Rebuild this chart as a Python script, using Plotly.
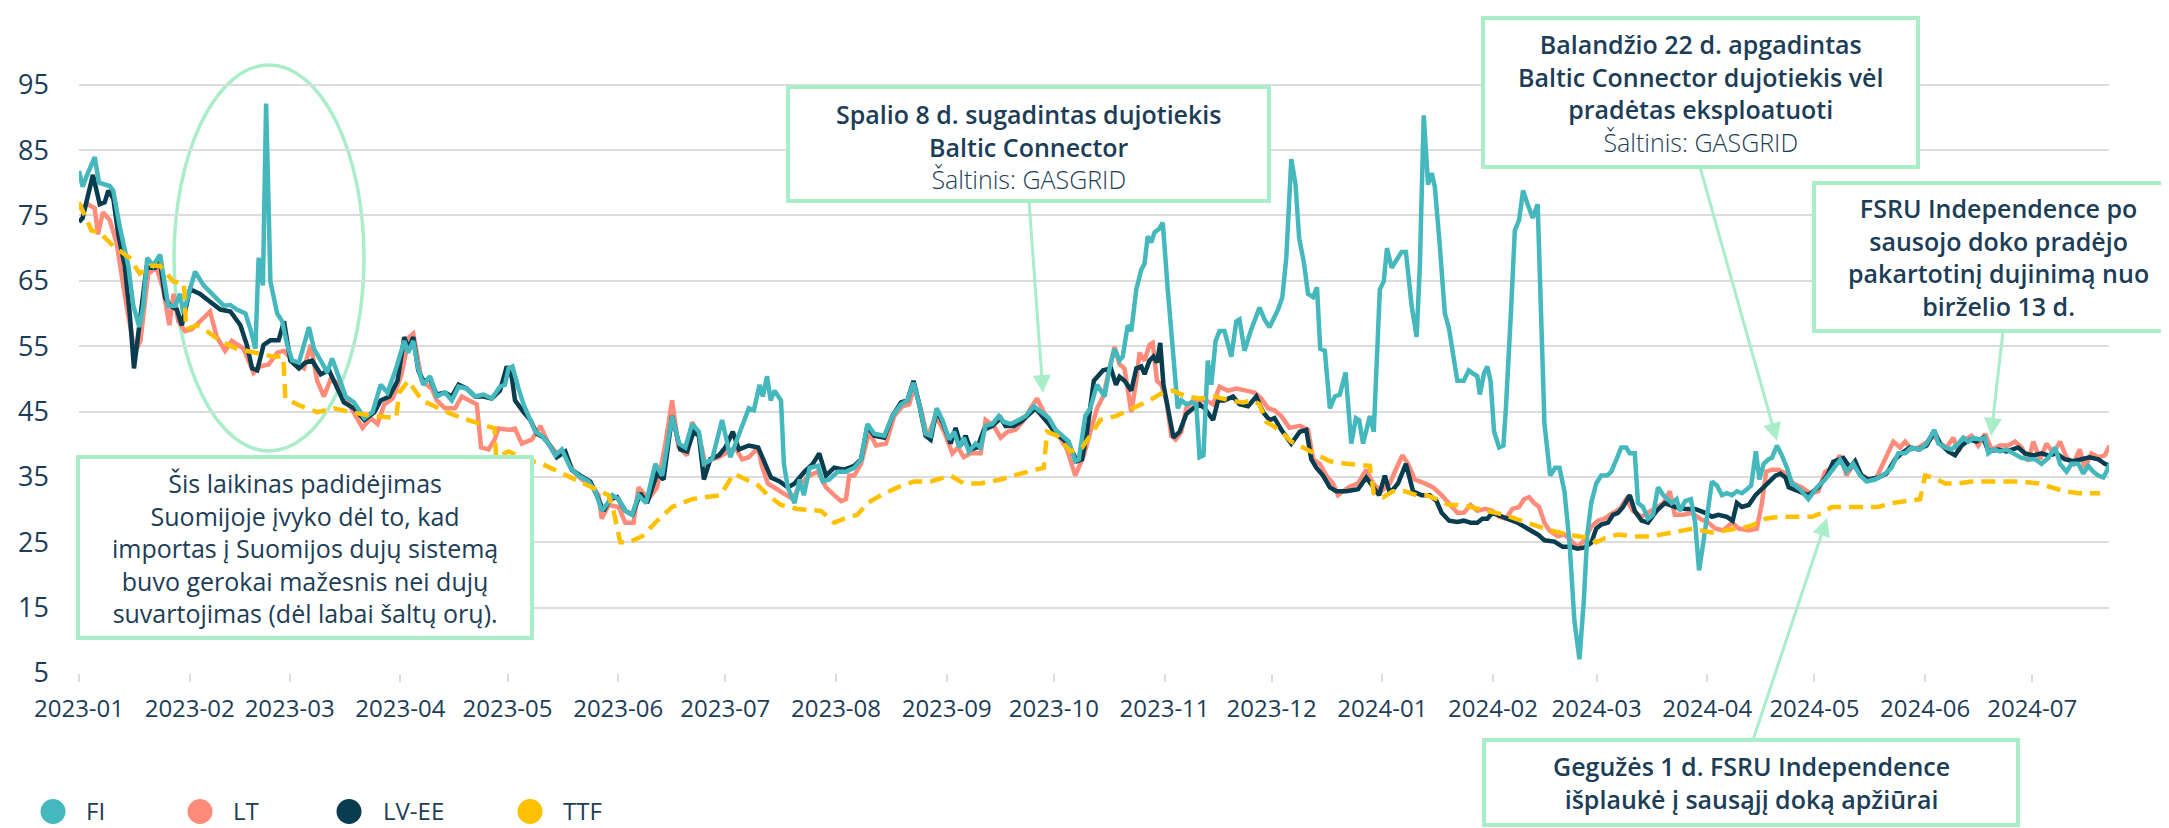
import pandas as pd
import plotly.graph_objects as go

START = pd.Timestamp("2023-01-01")

# ---- data: day offset from 2023-01-01 and price (EUR/MWh) ----
FI_DAY = [0,1,2.5,4.4,5.6,8.6,9.6,11.4,13.8,15.2,16.9,18,19.1,20.8,22.7,23.6,25,26.9,28.3,29.2,32.5,34.9,37.2,38.6,40.5,42.4,44.2,46.6,48,49.4,50.3,51.5,52.4,53.6,55.5,56.9,58.3,59.7,61.6,64.4,65.8,67.7,69.5,70.9,72.8,74.7,77,79.9,82.2,84.5,86.4,88.8,91.1,92.2,93.6,95,96.4,98.3,100.2,102.5,104.4,106.3,108.6,110.9,113.3,115.6,117.9,119.3,120.3,121.4,123.1,124.5,126.4,127.8,129.6,131.5,133.4,135.2,137.6,139.9,142.7,144.6,146.4,148.1,149.4,151.1,153,154.9,156.7,158.8,161.4,163.3,166.1,168,169.8,171.7,173.6,175,177.3,180.1,182.4,184.8,187.6,189,190.6,191.5,192.7,193.7,194.8,196.6,197.4,198.5,200.4,201.8,203,204.6,206.9,208.3,210.1,212.5,214.8,217.1,219,220.8,222.7,225.5,227.8,230.2,232,233.7,235.3,237.1,238.5,240.2,241.8,243.7,245.1,246.5,247.8,249.2,251.1,252.5,253.9,255.8,257.6,259,260.9,263.2,265.1,267.4,269.3,271.6,273.5,275.3,277.2,279,280,281.8,283.2,285.1,287.2,288.6,290,291.4,292.3,293.7,294.7,296.1,297.5,298.4,299.3,300.3,301.2,302.6,303.5,304.9,306.3,307.7,308.7,310.1,311.5,312.9,313.8,314.9,316.1,317.1,318.3,319.4,320.8,322.7,324.1,325,326.4,328.3,330.6,332,333.4,335.8,337,338.1,339.5,340.7,341.7,343,344.2,345.6,346.7,347.6,348.9,350.3,351.7,353.1,354.7,356.3,357.6,358.5,359.6,361.5,362.6,364.3,365.4,366.3,367.6,369.4,370.4,371.6,373.2,374.6,375.5,376.6,377.8,378.8,379.7,381.1,382.5,383.6,386,387.8,389.2,390.7,391.6,392.3,393.5,394.4,395.3,396.3,397.7,398.9,399.6,401,402.1,403.3,404.4,405.7,407.1,408.5,409.4,410.4,412,413.4,414.6,416,417.4,418.8,420.2,421.4,422.4,423.5,424.9,426.3,428,429.1,430.5,431.9,433.3,434.3,435.7,436.6,438,439.4,440.8,442.2,443.7,444.9,446,447.4,448.3,449.8,451.4,452.6,453.7,454.9,455.8,457.3,458.7,460.1,461.5,462.9,464.3,465.7,467.1,468.3,469.6,470.6,471.8,473.2,474.1,475.5,476.9,478.3,479.7,482,484.3,486.7,489,491.3,493.2,495,496.9,498.8,500.6,503,505.8,507.6,509.5,511.4,513.2,515.6,517.4,519.6,520.7,522.6,524.4,526.3,527.7,529.1,530.5,532.4,533.8,534.7,536.1,538,539.8,541.7,544,545.9,547.8,549.6,551.5,553.4,554.8,556.6,558,559.9,561.3,562.7,564.1,565.5,566.9,567.8,568.7]
FI_VAL = [81.8,79.4,81.5,83.9,80.0,79.5,78.8,73.3,67.3,61.2,57.9,61.2,68.5,67.3,69.0,66.1,61.2,61.2,63.0,60.0,66.4,64.3,63.0,62.4,61.2,61.3,60.6,60.0,57.6,54.6,68.5,64.3,92.1,64.9,60.0,58.8,55.2,52.8,52.5,57.9,54.6,52.8,51.0,53.1,50.4,47.3,46.4,44.0,44.9,49.1,47.9,51.6,55.8,54.0,55.8,51.6,49.1,50.4,47.3,47.9,46.7,48.8,48.5,47.3,47.6,47.0,48.8,49.1,51.6,51.9,48.5,46.1,43.7,41.9,41.3,40.1,38.3,39.2,36.4,35.2,34.3,32.8,29.8,31.0,32.2,31.6,29.8,29.2,32.2,31.0,37.0,35.2,44.3,40.1,39.5,43.1,41.9,37.0,37.7,43.7,38.0,41.3,45.5,45.2,49.1,47.3,50.4,46.7,48.2,46.7,37.0,33.4,31.0,34.6,32.2,36.4,36.7,34.3,34.6,35.8,35.8,36.4,37.6,43.1,41.6,41.3,44.3,46.1,46.7,49.4,46.1,41.6,41.3,45.5,43.7,40.7,41.9,39.5,41.0,38.9,40.1,39.5,42.8,43.1,44.3,43.4,43.1,43.7,44.3,45.8,44.9,44.0,42.2,41.3,40.4,37.4,37.7,44.3,45.5,49.1,47.3,51.6,54.6,52.8,53.4,58.2,57.3,63.7,66.7,67.6,71.8,70.9,72.4,73.0,73.9,63.7,55.2,45.5,46.7,46.1,46.4,46.1,38.0,38.3,52.8,49.1,55.8,57.3,57.3,53.4,58.8,59.1,54.3,57.6,60.9,59.1,57.9,60.6,62.5,68.5,83.6,79.7,71.5,67.9,63.0,62.5,64.0,54.6,54.3,45.5,47.3,47.6,51.0,40.1,44.0,43.7,40.1,44.3,41.9,63.7,64.9,70.0,67.0,68.5,69.4,69.4,61.2,56.4,67.3,90.3,79.7,81.5,79.4,70.3,60.0,57.9,49.7,49.7,51.3,50.7,50.4,47.6,50.9,51.9,49.7,41.9,39.5,39.8,45.5,60.0,72.7,74.3,78.8,76.7,74.6,76.7,61.2,43.1,35.2,36.4,36.4,32.8,25.0,12.9,7.1,15.9,26.2,31.0,34.0,35.2,35.2,35.8,37.6,39.5,39.5,38.6,38.6,31.0,30.4,28.6,29.2,33.4,32.2,31.6,31.0,31.6,29.8,31.3,31.6,28.0,20.7,25.0,28.6,34.3,33.7,32.2,32.5,32.2,32.8,32.5,33.1,33.7,38.9,34.6,37.0,37.7,37.9,39.8,38.3,36.4,34.0,33.1,31.6,33.4,34.6,36.1,37.6,35.8,37.0,35.2,34.3,34.6,35.5,36.4,38.6,38.6,39.5,39.2,40.1,42.2,40.1,39.5,39.2,40.1,41.0,40.4,41.0,40.7,41.0,38.6,39.2,38.9,39.2,38.6,37.9,37.7,37.7,37.0,37.9,39.5,37.0,35.8,37.0,37.0,35.5,36.7,35.8,35.2,34.9,35.8,37.0]

LT_DAY = [0,2.5,4.4,5.3,6.7,8.6,10.5,13.3,15.7,17.2,19.4,21.7,23.6,25.3,26.5,27.8,29.7,31.6,33.9,36.7,38.6,40.9,42.8,46.1,48.9,50.8,53.1,55.5,57.4,60.2,63,64.9,66.7,68.6,70.5,73.3,75.6,79.4,81.7,83.6,85.5,87.8,90.2,92.5,93.6,96,98.8,100.2,102.5,105.3,107.2,109.1,111.4,112.6,114.7,116.4,117.5,120.3,122.1,124,126.8,129.2,131.5,133.8,136.2,138.5,140.8,143.6,145.5,146.4,148.3,151.1,153,155.3,156.7,159.5,161.9,164.2,166.1,167.9,170.3,171.7,173.6,175.4,177.3,179.2,182,183.8,185.7,187.6,190.2,191.1,192.9,194.8,197.6,199.9,202.2,204.6,206.9,209.2,211.5,213.4,214.8,215.7,217.1,219,221.3,223.2,226,228.3,230.6,232.5,233.9,235.7,237.6,239.9,242.3,244.6,246.2,247.8,249.7,252.5,253.9,256.2,258.1,260,262.3,264.7,266.5,268.3,270.2,272.5,274.4,276.7,279,281.4,283.2,285.1,286.8,289,290,291.4,292.8,294.7,296.1,297,298.4,299.8,300.7,301.9,303.1,304.5,305.9,307.1,308.7,310.1,312,313.8,315.7,317.6,319.4,321.8,324.1,326.9,329.2,331.1,333,334.8,336.7,339,341.9,344.2,345.6,347.5,349.3,351.2,352.6,355.4,358.2,360.5,362.4,364.7,367.1,369,370.6,372.2,374.1,376.9,379.2,381.6,383.7,386,387.8,389.7,391.6,393.9,395.8,397.7,399.6,401.4,403.3,404.7,406.1,407.5,408.9,410.4,411.8,414.1,416,417.9,419.7,421.6,423.5,425.4,427.2,429.6,431.5,433.3,435.2,437.6,439.4,441.8,443.7,445.5,446.9,449.3,451.6,454,456.3,458.2,460.5,462.9,464.8,467.6,469.9,471.3,472.5,474.1,476,477.9,480.1,482.5,484.8,487.1,489,490.9,493.2,495,496.9,498.8,501.1,503.4,505.8,508.1,510,511.4,513.2,515.1,517,519.3,521.2,523,524.9,526.3,528.2,530,531.9,533.8,535.6,538,540.3,542.2,544,545.9,547.3,549.2,551,552.9,554.8,556.6,558.5,560.3,561.7,563.6,565.5,567.3,568.7]
LT_VAL = [76.0,76.7,76.1,72.1,75.5,74.3,70.9,61.2,54.0,55.8,66.1,67.0,63.7,58.2,63.0,58.8,57.3,57.6,58.8,60.3,56.4,54.3,55.8,54.6,50.9,51.9,52.2,54.0,54.3,52.5,51.6,55.2,49.7,47.3,50.0,49.1,46.1,42.5,44.0,43.1,46.1,47.0,50.4,56.4,56.9,49.7,48.5,46.7,45.5,45.5,47.3,46.7,46.1,39.5,39.2,40.7,42.4,42.2,42.4,40.1,40.7,42.8,40.1,38.6,38.6,35.8,34.6,33.7,32.2,28.6,30.7,30.4,28.0,28.0,33.4,31.6,33.4,40.1,46.7,39.5,38.3,43.4,41.3,37.0,37.7,38.0,38.9,39.5,37.7,38.0,39.5,37.0,34.0,33.4,32.5,31.6,34.0,35.2,35.8,33.4,32.2,31.3,31.6,35.2,35.2,37.0,41.9,39.8,40.1,44.3,45.8,46.1,48.8,45.5,41.0,44.3,41.9,38.6,39.5,38.0,38.6,38.6,43.7,42.8,41.0,41.9,42.2,43.7,45.5,47.0,44.9,43.1,41.3,39.2,35.2,38.3,41.9,45.5,47.3,52.8,54.9,52.2,51.6,44.9,49.7,54.0,52.8,55.2,55.5,49.7,49.1,46.7,41.3,40.7,41.9,45.5,46.7,46.7,46.7,46.1,48.8,48.2,48.5,48.2,47.9,47.0,45.5,45.2,44.3,42.5,42.8,42.2,37.7,37.0,35.2,34.0,32.2,33.4,34.0,36.1,34.0,32.8,34.0,36.4,38.3,37.0,34.6,34.0,33.4,32.2,31.0,29.5,29.5,30.7,29.8,30.1,29.8,28.9,28.6,30.1,30.4,31.6,31.9,31.0,30.4,28.0,26.8,25.9,26.2,25.3,24.3,25.3,27.4,28.3,28.6,29.5,30.1,31.6,29.8,28.9,29.5,30.4,31.0,32.8,29.2,29.2,29.5,28.6,28.0,27.1,26.8,28.0,27.1,26.8,27.1,31.0,35.8,36.1,36.1,35.5,34.0,33.4,32.5,32.8,35.8,36.4,38.3,35.2,37.0,35.5,34.6,34.9,37.7,40.4,39.5,40.4,39.2,39.5,40.1,41.3,40.1,39.5,41.0,38.9,40.7,41.3,39.8,41.6,39.2,39.8,39.8,40.4,39.5,37.4,40.4,37.7,40.1,38.6,40.4,38.0,37.0,39.2,36.4,38.6,38.0,38.3,39.8]

LVEE_DAY = [0,1,3.9,5.8,7.2,8.2,9.6,11,12.8,14.2,15.4,16.9,18.9,21.3,22.7,24.1,25.5,27.4,28.8,31.1,33.9,36.7,39.6,42.4,45.2,47,48.5,49.9,51.7,53.6,55.9,57.4,59.2,61.6,63.4,65.3,67.7,70,71.9,74.2,77,79.9,82.7,84.5,86.9,89.2,91.1,92.2,93.6,95,96.4,98.3,100.2,102.5,104.4,106.3,108.6,110.9,113.3,115.6,117.9,119.8,121.2,122.1,124.5,126.4,128.2,130.1,131.5,133.8,136.2,138,140.4,143.2,145,146.9,148.8,150.7,153,155,157.2,159.1,161.9,163.7,166.1,168.4,170.3,172.1,173.6,175,176.8,179.2,181,183.1,184.8,187.6,190.2,192.4,193.8,196.2,198.5,200.4,203.2,205.5,207.3,209.2,211.5,214.3,217.1,219,220.8,222.7,225.5,227.8,230.2,232,233.7,235.3,237.1,238.5,240.2,241.8,244.1,245.5,246.9,248.3,249.7,251.6,253.4,255.8,258.1,259.5,261.8,263.7,265.5,267.9,269.7,271.6,273.5,275.8,277.6,279.5,280.9,282.3,284.2,286.8,289,290.4,291.4,292.8,294.7,296.1,297.5,298.4,299.8,300.9,301.9,302.8,303.7,304.9,306.5,308.2,310.1,312,313.8,315.2,317.6,319,320.8,323.2,325,327.4,329.7,331.6,333.4,334.8,336.7,339.5,341.9,343.7,345.1,346.5,348.4,350.3,352.1,354.9,358.2,360.5,362.4,364.1,365.7,367.1,369.4,371.6,373.6,376,378.3,380.2,381.6,383.7,386,387.8,389.7,391.6,393,394.4,395.8,397.2,400,402.8,405.6,408.5,410.4,413.2,415.5,417.9,419.7,421.6,423.5,424.9,426.3,428.2,429.6,431,432.4,434.3,435.7,437.6,439.4,441.8,444.1,447,449.8,452.6,455.4,457.3,459.1,461.5,463.1,464.3,465.7,467.6,469.5,471.8,473.7,475.1,476.5,477.9,478.8,482,484.3,487.1,489.5,491.3,494.1,496,497.4,499.2,501.1,503.9,506.2,508.6,510.4,512.8,515.1,517.4,519.6,521.2,523.5,525.4,527.2,529.6,531.4,533.3,534.7,537.5,539.8,543.1,545,547.3,549.6,551.5,553.8,556.1,558.5,560.8,563.1,565.5,567.3,568.7]
LVEE_VAL = [74.0,74.6,81.2,76.7,77.0,78.8,77.6,72.1,67.3,60.0,51.6,58.2,67.0,67.0,67.9,62.4,61.2,60.6,58.2,63.7,63.0,61.8,60.6,60.3,58.2,55.2,51.6,51.3,55.2,55.9,55.9,58.8,52.8,51.6,52.5,52.8,50.7,51.3,49.1,46.4,45.5,43.7,44.9,46.7,47.3,49.7,56.4,54.6,56.4,51.3,49.7,50.0,47.6,47.9,47.3,49.1,48.5,47.3,47.3,47.0,48.2,51.9,50.3,46.7,44.9,43.7,41.6,41.0,40.1,38.0,38.9,36.1,35.2,34.3,32.2,29.8,31.6,31.9,29.8,29.2,32.5,31.0,35.5,34.6,44.3,39.2,38.9,41.9,41.3,34.6,37.7,38.3,39.5,41.9,39.2,39.8,39.5,36.4,34.9,34.3,33.4,34.0,35.8,37.0,38.6,35.2,36.4,36.1,36.7,37.7,42.8,41.3,41.0,44.3,46.4,46.7,49.7,46.1,41.3,40.7,45.2,43.4,40.1,42.5,39.8,41.3,39.2,39.5,42.2,42.8,44.0,42.8,42.8,43.4,44.3,45.5,44.3,43.1,41.6,40.7,39.5,37.4,37.7,41.9,49.7,51.3,51.6,49.1,50.3,49.7,48.2,51.6,51.9,50.7,52.8,53.4,52.5,55.5,49.1,45.5,41.0,41.9,44.6,45.5,46.1,45.5,43.7,46.7,46.7,47.3,46.1,45.8,47.3,44.9,43.7,44.0,42.2,40.1,41.9,42.2,37.7,36.4,35.2,33.4,32.8,32.8,33.1,34.9,33.4,32.2,35.2,32.5,34.0,37.0,32.8,32.2,32.2,31.3,29.5,28.3,28.1,28.3,28.0,28.0,28.6,28.6,29.5,29.2,28.6,28.0,27.1,26.2,25.3,25.1,24.3,24.3,24.0,24.2,24.9,27.1,27.7,28.0,29.2,29.5,30.4,32.2,29.8,28.3,28.0,29.8,31.0,30.4,30.1,30.1,29.5,28.9,29.2,28.9,28.3,31.0,30.4,30.7,32.2,33.4,34.3,35.2,35.5,34.9,33.4,32.8,32.2,33.4,35.2,37.3,37.9,36.4,37.4,35.2,34.6,34.9,35.5,37.7,38.6,39.5,39.2,39.8,41.9,40.1,38.9,38.3,39.8,40.7,40.4,41.0,38.9,39.2,38.9,39.5,38.6,38.3,38.6,38.3,38.6,37.7,37.4,37.7,38.0,37.7,37.0,36.7]

TTF_DAY = [0,3.5,5.8,9.6,14.2,17,19.9,22.7,26.4,29.4,30,33,35.8,39.6,44.2,49.9,54.5,57.2,57.8,61.1,66.7,71.4,76.1,82.7,88.8,89.7,92.2,96,99.7,104.4,109.1,113.7,116.4,116.8,120.3,125,129.6,134.3,139,143.6,148.3,149.7,151.6,153.9,157.7,161.4,166.1,171.7,176.4,179.6,183.4,186.6,190.2,192.9,196.6,201.3,207.8,211.5,214.3,218,220.8,224.6,229.2,233.9,238.5,244.1,247.8,252.5,258.1,263.7,270.2,271.1,273.9,277.6,280.9,283.2,286,290.4,295.1,299.8,303.5,306.3,310.1,313.8,318,322.2,326,328.8,330.6,332.5,334.4,336.7,339.5,342.8,346.5,350.3,354.9,359.6,361.5,362.6,365.2,368,371.3,374.6,377.4,380.2,383.7,386,389.7,394.4,399.1,403.8,408.5,412.2,416.9,420.7,423.5,424.9,427.2,431,435.7,440.4,446,449.8,452.1,454.4,457.3,461,464.8,467.6,470.4,472.3,476,480.5,485.3,488.1,490.9,495.5,500.2,503.9,507.6,511.4,515.6,517,519.3,522.6,526.3,530,534.7,539.4,544,548.7,552.4,556.1,559.9,563.6,566]
TTF_VAL = [77.0,72.7,72.4,70.3,68.5,66.1,67.3,67.3,64.9,64.6,57.6,58.2,57.3,55.8,54.6,54.0,53.4,53.4,47.0,46.1,44.9,45.5,44.9,44.3,44.0,47.9,49.7,46.7,45.8,44.6,43.7,42.8,42.4,38.0,38.9,37.7,37.0,35.8,34.6,33.4,32.2,29.8,25.0,25.0,25.9,28.0,30.4,31.6,31.9,32.2,35.5,34.6,33.7,32.2,30.7,30.1,29.8,28.0,28.6,29.2,31.0,32.2,33.4,34.3,34.3,35.2,34.0,34.0,34.6,35.5,36.4,41.9,41.3,38.9,39.5,41.3,43.7,44.3,45.5,46.7,47.9,48.2,47.3,47.0,47.3,46.7,46.4,46.7,46.1,43.4,42.8,41.9,40.4,39.5,38.3,37.4,37.0,36.7,36.7,32.5,31.9,32.8,32.8,32.2,32.2,31.6,30.7,30.7,30.4,29.8,29.2,28.3,27.4,26.8,26.2,25.9,25.6,25.0,25.6,26.2,25.9,25.9,26.5,26.8,27.1,26.8,26.5,26.8,27.1,27.4,28.0,28.6,28.9,28.9,28.9,29.5,30.4,30.4,30.4,30.4,31.0,31.3,31.6,35.2,34.9,34.0,34.0,34.3,34.3,34.3,34.3,34.0,33.4,32.8,32.5,32.5,32.5]

Y_TICKS = [5, 15, 25, 35, 45, 55, 65, 75, 85, 95]
SERIES_NAMES = ["FI", "LT", "LV-EE", "TTF"]

# ---- style ----
C_FI, C_LT, C_LV, C_TTF = "#45B8BD", "#FF8B7B", "#083C4F", "#FFC000"
GREEN = "#A9EDC9"
TXT = "#1C3D57"
GRID = "#DCDCDC"
FONT = "Open Sans"

W, H = 2169, 828
L, R, T, B = 71, 68, 44, 163
PW, PH = W - L - R, H - T - B


def px(xp):
    return (xp - L) / PW


def py(yp):
    return (H - B - yp) / PH


def dates(days):
    return START + pd.to_timedelta(days, unit="D")


fig = go.Figure()
for name, d, v, c, dash in [
    ("LT", LT_DAY, LT_VAL, C_LT, None),
    ("LV-EE", LVEE_DAY, LVEE_VAL, C_LV, None),
    ("FI", FI_DAY, FI_VAL, C_FI, None),
    ("TTF", TTF_DAY, TTF_VAL, C_TTF, "14px,8px"),
]:
    fig.add_trace(go.Scatter(
        x=dates(d), y=v, name=name, mode="lines",
        line=dict(color=c, width=4.5, dash=dash), showlegend=False,
    ))

shapes = []
annotations = []

# ellipse around the February spike
shapes.append(dict(type="circle", xref="paper", yref="paper",
                   x0=px(166), x1=px(356), y0=py(443), y1=py(57),
                   line=dict(color=GREEN, width=3.5), layer="below"))

# text boxes
boxes = [
    (70, 524, 449, 630),
    (780, 1261, 79, 193),
    (1475, 1910, 10, 159),
    (1806, 2165, 175, 323),
    (1476, 2010, 732, 817),
]
for x0, x1, y0, y1 in boxes:
    shapes.append(dict(type="rect", xref="paper", yref="paper",
                       x0=px(x0), x1=px(x1), y0=py(y1), y1=py(y0),
                       line=dict(color=GREEN, width=4), fillcolor="white", layer="above"))


def note(lines, xc, yc, size=25):
    parts = []
    for text, weight in lines:
        parts.append(f"<span style='font-weight:{weight}'>{text}</span>")
    annotations.append(dict(text="<br>".join(parts), xref="paper", yref="paper",
                            x=px(xc), y=py(yc), xanchor="center", yanchor="middle",
                            showarrow=False, align="center",
                            font=dict(family=FONT, size=size, color=TXT)))


SB, RG, LI = 600, 400, 300
note([("Šis laikinas padidėjimas", RG), ("Suomijoje įvyko dėl to, kad", RG),
      ("importas į Suomijos dujų sistemą", RG), ("buvo gerokai mažesnis nei dujų", RG),
      ("suvartojimas (dėl labai šaltų orų).", RG)], 297, 540)
note([("Spalio 8 d. sugadintas dujotiekis", SB), ("Baltic Connector", SB),
      ("Šaltinis: GASGRID", LI)], 1020, 138)
note([("Balandžio 22 d. apgadintas", SB), ("Baltic Connector dujotiekis vėl", SB),
      ("pradėtas eksploatuoti", SB), ("Šaltinis: GASGRID", LI)], 1692, 85)
note([("FSRU Independence po", SB), ("sausojo doko pradėjo", SB),
      ("pakartotinį dujinimą nuo", SB), ("birželio 13 d.", SB)], 1990, 249)
note([("Gegužės 1 d. FSRU Independence", SB), ("išplaukė į sausąjį doką apžiūrai", SB)], 1743, 775)

# arrows (tail -> tip), pixel positions
for (tx, ty), (hx, hy) in [((1021, 193), (1035, 385)), ((1692, 159), (1769, 433)),
                           ((1995, 323), (1983, 428)), ((1745, 732), (1819, 510))]:
    annotations.append(dict(text="", xref="paper", yref="paper", x=px(hx), y=py(hy),
                            ax=tx - hx, ay=ty - hy, axref="pixel", ayref="pixel",
                            showarrow=True, arrowhead=2, arrowsize=1.2, arrowwidth=3,
                            arrowcolor=GREEN, standoff=0, startstandoff=0))

# manual legend with large round markers
for name, c, cx, tx in zip(SERIES_NAMES, [C_FI, C_LT, C_LV, C_TTF], [45, 192, 341, 522], [76, 223, 373, 553]):
    shapes.append(dict(type="circle", xref="paper", yref="paper",
                       x0=px(cx - 12.5), x1=px(cx + 12.5), y0=py(816), y1=py(791),
                       fillcolor=c, line=dict(width=0), layer="above"))
    annotations.append(dict(text=name, xref="paper", yref="paper", x=px(tx), y=py(802),
                            xanchor="left", yanchor="middle", showarrow=False,
                            font=dict(family=FONT, size=24, color=TXT)))

fig.update_layout(
    width=W, height=H,
    margin=dict(l=L, r=R, t=T, b=B, pad=0, autoexpand=False),
    paper_bgcolor="white", plot_bgcolor="white",
    font=dict(family=FONT, color=TXT),
    shapes=shapes, annotations=annotations,
    showlegend=False,
    xaxis=dict(type="date", range=["2023-01-01", "2024-07-22 12:00"],
               tickformat="%Y-%m", dtick="M1", tick0="2023-01-01",
               ticks="outside", ticklen=8, tickwidth=2, tickcolor=GRID,
               showgrid=False, zeroline=False, showline=False, automargin=False,
               tickfont=dict(family=FONT, size=24, color=TXT), ticklabelstandoff=6),
    yaxis=dict(range=[5, 100], tickvals=Y_TICKS, showgrid=True, gridcolor=GRID, gridwidth=2,
               zeroline=False, showline=False, ticks="", automargin=False,
               tickfont=dict(family=FONT, size=27, color=TXT), ticklabelstandoff=29),
)

fig.write_html("out.html")
